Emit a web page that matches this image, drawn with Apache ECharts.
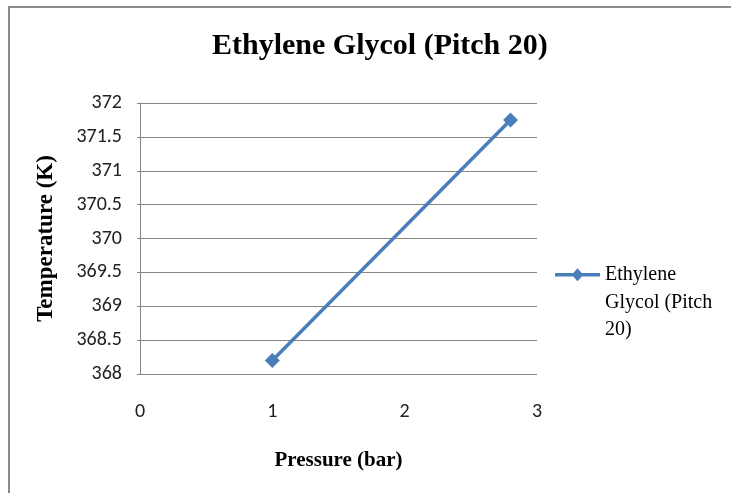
<!DOCTYPE html>
<html>
<head>
<meta charset="utf-8">
<script src="https://cdn.jsdelivr.net/npm/echarts@6/dist/echarts.min.js"></script>
<style>html,body{margin:0;padding:0;background:#fff;}#c{width:731px;height:493px;}</style>
</head>
<body>
<div id="c"></div>
<script>
const titleText = 'Ethylene Glycol (Pitch 20)';
const seriesName = 'Ethylene Glycol (Pitch 20)';
const legendLines = ['Ethylene', 'Glycol (Pitch', '20)'];
const pressure = [1, 2.8];
const temperature = [368.2, 371.75];
const xTicks = { min: 0, max: 3, interval: 1 };
const yTicks = { min: 368, max: 372, interval: 0.5 };

const chart = echarts.init(document.getElementById('c'), null, { renderer: 'canvas' });
const sans = "Carlito, Calibri, 'Liberation Sans', sans-serif";
const serif = "'Liberation Serif', 'Times New Roman', serif";

chart.setOption({
  backgroundColor: '#fff',
  animation: false,
  title: {
    text: titleText,
    left: 207,
    top: 26,
    textStyle: { fontFamily: serif, fontWeight: 'bold', fontSize: 30, color: '#000' }
  },
  graphic: [{
    type: 'rect',
    shape: { x: 9, y: 7, width: 760, height: 520 },
    style: { fill: 'none', stroke: '#8a8a8a', lineWidth: 2 },
    silent: true
  }],
  legend: {
    left: 555,
    top: 206,
    padding: 0,
    itemWidth: 45,
    itemHeight: 13,
    icon: 'path://M0,4.75 L18.25,4.75 L22.5,0 L26.75,4.75 L45,4.75 L45,8.25 L26.75,8.25 L22.5,13 L18.25,8.25 L0,8.25 Z',
    formatter: function () { return '\n\n' + legendLines.join('\n'); },
    textStyle: { fontFamily: serif, fontSize: 20, lineHeight: 27.5, color: '#000' },
    data: [{ name: seriesName, itemStyle: { color: '#4a7ebb', borderWidth: 0 } }]
  },
  grid: { left: 140, right: 194, top: 103, bottom: 119, containLabel: false },
  xAxis: {
    type: 'value',
    min: xTicks.min, max: xTicks.max, interval: xTicks.interval,
    name: 'Pressure (bar)',
    nameLocation: 'middle',
    nameGap: 76,
    nameTextStyle: { fontFamily: serif, fontWeight: 'bold', fontSize: 21, color: '#000' },
    axisLine: { show: false },
    axisTick: { show: false },
    splitLine: { show: false },
    axisLabel: { margin: 28, fontFamily: sans, fontSize: 20, color: '#222' }
  },
  yAxis: {
    type: 'value',
    min: yTicks.min, max: yTicks.max, interval: yTicks.interval,
    name: 'Temperature (K)',
    nameLocation: 'middle',
    nameGap: 82,
    nameRotate: 90,
    nameTextStyle: { fontFamily: serif, fontWeight: 'bold', fontSize: 23, color: '#000' },
    axisLine: { show: true, lineStyle: { color: '#868686', width: 1 } },
    axisTick: { show: true, length: 3, lineStyle: { color: '#868686' } },
    splitLine: { show: true, lineStyle: { color: '#868686', width: 1 } },
    axisLabel: { margin: 18, fontFamily: sans, fontSize: 20, color: '#222',
      formatter: function (v) { return String(v); } }
  },
  series: [{
    name: seriesName,
    type: 'line',
    data: pressure.map((p, i) => [p, temperature[i]]),
    symbol: 'diamond',
    symbolSize: 15,
    lineStyle: { color: '#4a7ebb', width: 3.5 },
    itemStyle: { color: '#4a7ebb' }
  }]
});
</script>
</body>
</html>
